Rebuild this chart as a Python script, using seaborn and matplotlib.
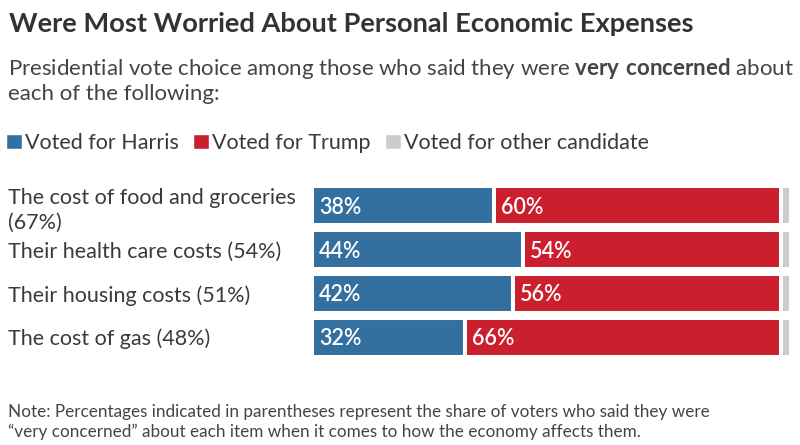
import textwrap

import matplotlib
matplotlib.use("Agg")
import matplotlib.pyplot as plt
from matplotlib.patches import Patch
import pandas as pd
import seaborn as sns

# ------------------------------------------------------------
# Data
# ------------------------------------------------------------
issues         = ["The cost of food and groceries", "Their health care costs",
                  "Their housing costs", "The cost of gas"]
very_concerned = [67, 54, 51, 48]
harris         = [38, 44, 42, 32]
trump          = [60, 54, 56, 66]
other          = [2, 2, 2, 2]

series = ["Voted for Harris", "Voted for Trump", "Voted for other candidate"]
colors = ["#34709f", "#cc1f2d", "#cccccc"]

title    = "Were Most Worried About Personal Economic Expenses"
subtitle = ["Presidential vote choice among those who said they were "
            r"$\mathbf{very\ concerned}$ about",
            "each of the following:"]
note     = ("Note: Percentages indicated in parentheses represent the share of voters who said they were\n"
            "\u201cvery concerned\u201d about each item when it comes to how the economy affects them.")

# ------------------------------------------------------------
# Style
# ------------------------------------------------------------
sns.set_theme(style="white")
plt.rcParams["font.family"] = ["Lato", "DejaVu Sans"]
plt.rcParams["mathtext.fontset"] = "custom"
plt.rcParams["mathtext.rm"] = "Lato"
plt.rcParams["mathtext.bf"] = "Lato:bold"

TEXT = "#3a3a3a"
W, H = 800, 445

df = pd.DataFrame({
    "issue":  [textwrap.fill(f"{i} ({c}%)", 30) for i, c in zip(issues, very_concerned)],
    "harris": harris,
    "trump":  trump,
    "other":  other,
})
df["end_trump"] = df["harris"] + df["trump"]
df["end_other"] = df["end_trump"] + df["other"]

fig = plt.figure(figsize=(W / 100, H / 100), dpi=100)
ax = fig.add_axes([312 / W, 1 - 359 / H, 478.5 / W, 175 / H])

# stacked bars: draw cumulative totals back to front
for col, color, label in zip(["end_other", "end_trump", "harris"], colors[::-1], series[::-1]):
    sns.barplot(data=df, x=col, y="issue", color=color, saturation=1,
                edgecolor="white", linewidth=2.9, width=0.89, label=label, ax=ax)

if ax.get_legend() is not None:
    ax.get_legend().remove()

# value labels inside the Harris / Trump segments
for i, row in df.iterrows():
    for start, val in [(0, row["harris"]), (row["harris"], row["trump"])]:
        ax.annotate(f"{val}%", xy=(start, i), xytext=(5, -1), textcoords="offset points",
                    va="center", ha="left", color="white", fontsize=15.5, fontweight="semibold")

ax.set_xlim(0, 100)
ax.set_ylim(3.5, -0.5)
ax.set_xlabel("")
ax.set_ylabel("")
ax.set_xticks([])
ax.set_yticks(range(len(df)))
ax.set_yticklabels(df["issue"], ha="left", linespacing=1.3)
ax.tick_params(axis="y", length=0, pad=219, labelsize=15.5, labelcolor=TEXT)
sns.despine(ax=ax, left=True, bottom=True)

# ------------------------------------------------------------
# Titles, legend, note
# ------------------------------------------------------------
fig.text(9 / W, 1 - 32 / H, title, fontsize=19.6, fontweight="bold", color="#333333", va="baseline")
fig.text(8 / W, 1 - 75 / H, subtitle[0], fontsize=16, color="#444444", va="baseline")
fig.text(8 / W, 1 - 100 / H, subtitle[1], fontsize=16, color="#444444", va="baseline")

handles = [Patch(facecolor=c, label=s) for c, s in zip(colors, series)]
fig.legend(handles=handles, loc="center left", bbox_to_anchor=(6 / W, 1 - 143 / H),
           ncol=3, frameon=False, fontsize=15.5, handlelength=0.75, handleheight=0.75,
           handletextpad=0.14, columnspacing=0.65, borderaxespad=0, borderpad=0,
           labelcolor=TEXT)

fig.text(8 / W, 1 - 422 / H, note, fontsize=12.3, color="#444444", va="center", linespacing=1.3)

fig.savefig("out.png", dpi=100)
